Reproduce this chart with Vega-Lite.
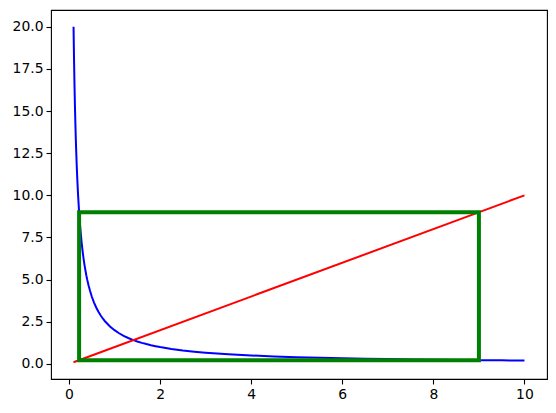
{
  "$schema": "https://vega.github.io/schema/vega-lite/v6.json",
  "width": 496,
  "height": 369,
  "autosize": {"type": "none"},
  "padding": {"left": 51, "top": 10, "right": 9, "bottom": 34},
  "background": "white",
  "config": {
    "view": {"stroke": "black", "strokeWidth": 1.1},
    "axis": {
      "domain": false,
      "grid": false,
      "ticks": true,
      "tickColor": "black",
      "tickSize": 5,
      "tickWidth": 1.1,
      "labelFont": "DejaVu Sans",
      "labelFontSize": 13.9,
      "labelColor": "black",
      "labelPadding": 3,
      "title": null
    }
  },
  "datasets": {
    "curve": [
      {"x": 0.1, "y": 20.0}, {"x": 0.11, "y": 18.18}, {"x": 0.12, "y": 16.67}, {"x": 0.13, "y": 15.38},
      {"x": 0.14, "y": 14.29}, {"x": 0.15, "y": 13.33}, {"x": 0.16, "y": 12.5}, {"x": 0.17, "y": 11.76},
      {"x": 0.18, "y": 11.11}, {"x": 0.19, "y": 10.53}, {"x": 0.2, "y": 10.0}, {"x": 0.22, "y": 9.09},
      {"x": 0.24, "y": 8.33}, {"x": 0.26, "y": 7.69}, {"x": 0.28, "y": 7.14}, {"x": 0.3, "y": 6.667},
      {"x": 0.32, "y": 6.25}, {"x": 0.34, "y": 5.88}, {"x": 0.36, "y": 5.56}, {"x": 0.38, "y": 5.26},
      {"x": 0.4, "y": 5.0}, {"x": 0.43, "y": 4.65}, {"x": 0.46, "y": 4.35}, {"x": 0.5, "y": 4.0},
      {"x": 0.55, "y": 3.636}, {"x": 0.6, "y": 3.333}, {"x": 0.65, "y": 3.077}, {"x": 0.7, "y": 2.857},
      {"x": 0.75, "y": 2.667}, {"x": 0.8, "y": 2.5}, {"x": 0.9, "y": 2.222}, {"x": 1.0, "y": 2.0},
      {"x": 1.1, "y": 1.818}, {"x": 1.2, "y": 1.667}, {"x": 1.3, "y": 1.538}, {"x": 1.4, "y": 1.429},
      {"x": 1.5, "y": 1.333}, {"x": 1.6, "y": 1.25}, {"x": 1.7, "y": 1.176}, {"x": 1.8, "y": 1.111},
      {"x": 1.9, "y": 1.053}, {"x": 2.0, "y": 1.0}, {"x": 2.25, "y": 0.889}, {"x": 2.5, "y": 0.8},
      {"x": 2.75, "y": 0.727}, {"x": 3.0, "y": 0.667}, {"x": 3.5, "y": 0.571}, {"x": 4.0, "y": 0.5},
      {"x": 4.5, "y": 0.444}, {"x": 5.0, "y": 0.4}, {"x": 5.5, "y": 0.364}, {"x": 6.0, "y": 0.333},
      {"x": 6.5, "y": 0.308}, {"x": 7.0, "y": 0.286}, {"x": 7.5, "y": 0.267}, {"x": 8.0, "y": 0.25},
      {"x": 8.5, "y": 0.235}, {"x": 9.0, "y": 0.222}, {"x": 9.5, "y": 0.211}, {"x": 10.0, "y": 0.2}
    ],
    "diag": [
      {"x": 0.1, "y": 0.1}, {"x": 10.0, "y": 10.0}
    ],
    "rect": [
      {"i": 0, "x": 0.222, "y": 0.222},
      {"i": 1, "x": 9.0, "y": 0.222},
      {"i": 2, "x": 9.0, "y": 9.0},
      {"i": 3, "x": 0.222, "y": 9.0},
      {"i": 4, "x": 0.222, "y": 0.222}
    ]
  },
  "encoding": {
    "x": {"field": "x", "type": "quantitative",
      "scale": {"domain": [-0.395, 10.495], "nice": false, "zero": false},
      "axis": {"values": [0, 2, 4, 6, 8, 10], "format": "d"}},
    "y": {"field": "y", "type": "quantitative",
      "scale": {"domain": [-0.895, 20.995], "nice": false, "zero": false},
      "axis": {"values": [0, 2.5, 5, 7.5, 10, 12.5, 15, 17.5, 20], "format": ".1f"}}
  },
  "layer": [
    {
      "data": {"name": "curve"},
      "mark": {"type": "line", "color": "#0000ff", "strokeWidth": 2, "clip": true}
    },
    {
      "data": {"name": "diag"},
      "mark": {"type": "line", "color": "#ff0000", "strokeWidth": 2, "clip": true}
    },
    {
      "data": {"name": "rect"},
      "mark": {"type": "line", "color": "#008000", "strokeWidth": 4, "strokeCap": "square", "strokeJoin": "miter", "clip": true},
      "encoding": {"order": {"field": "i", "type": "quantitative"}}
    }
  ]
}
